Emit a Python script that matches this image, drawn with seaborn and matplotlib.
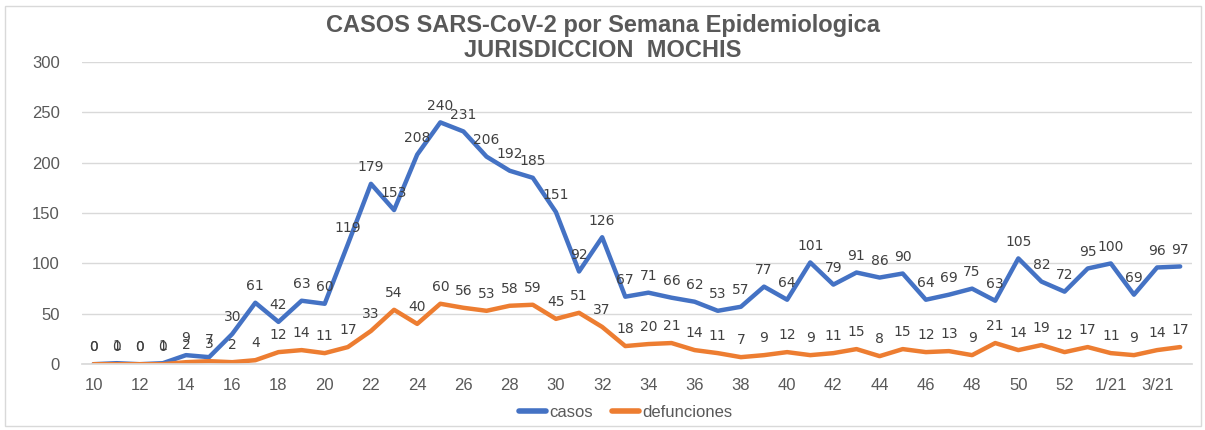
import numpy as np
import pandas as pd
import matplotlib
matplotlib.use("Agg")
import matplotlib.pyplot as plt
import seaborn as sns
from matplotlib.patches import Rectangle

# semanas epidemiologicas
semanas = [str(w) for w in range(10, 54)] + ['1/21', '2/21', '3/21', '4/21']

casos = [0, 1, 0, 1, 9, 7, 30, 61, 42, 63, 60, 119, 179, 153, 208, 240, 231, 206,
         192, 185, 151, 92, 126, 67, 71, 66, 62, 53, 57, 77, 64, 101, 79, 91, 86,
         90, 64, 69, 75, 63, 105, 82, 72, 95, 100, 69, 96, 97]

defunciones = [0, 0, 0, 0, 2, 3, 2, 4, 12, 14, 11, 17, 33, 54, 40, 60, 56, 53, 58,
               59, 45, 51, 37, 18, 20, 21, 14, 11, 7, 9, 12, 9, 11, 15, 8, 15, 12,
               13, 9, 21, 14, 19, 12, 17, 11, 9, 14, 17]

series = ['casos', 'defunciones']
colores = {'casos': '#4472C4', 'defunciones': '#ED7D31'}

pos = np.arange(len(semanas))
df = pd.DataFrame({
    'pos': np.concatenate([pos, pos]),
    'valor': casos + defunciones,
    'serie': ['casos'] * len(casos) + ['defunciones'] * len(defunciones),
})

sns.set_theme(style='white')
plt.rcParams['font.family'] = ['DejaVu Sans']
sans = ['Liberation Sans', 'DejaVu Sans']
txt = '#595959'

fig = plt.figure(figsize=(12.05, 4.3), dpi=100)
ax = fig.add_axes([0.068, 0.153, 0.921, 0.703])

sns.lineplot(data=df, x='pos', y='valor', hue='serie', hue_order=series,
             palette=colores, linewidth=3.2, ax=ax, legend=True)

# etiquetas de datos
for s, vals in [('casos', casos), ('defunciones', defunciones)]:
    for i, v in enumerate(vals):
        ax.annotate(str(v), (i, v), xytext=(0, 7), textcoords='offset points',
                    ha='center', va='bottom', fontsize=10, color='#404040')

ax.set_xlim(-0.5, len(semanas) - 0.5)
ax.set_ylim(0, 300)
ax.set_yticks(range(0, 301, 50))
ax.set_yticklabels([str(v) for v in range(0, 301, 50)], family=sans,
                   fontsize=12, color=txt)
ax.set_xticks(pos[::2])
ax.set_xticklabels(semanas[::2], family=sans, fontsize=12, color=txt)
ax.tick_params(axis='x', length=0, pad=10)
ax.tick_params(axis='y', length=0, pad=16)
ax.set_xlabel('')
ax.set_ylabel('')

ax.grid(axis='y', color='#D9D9D9', linewidth=1)
ax.set_axisbelow(True)
for side in ['top', 'right', 'left']:
    ax.spines[side].set_visible(False)
ax.spines['bottom'].set_color('#D9D9D9')

leg = ax.legend(loc='upper center', bbox_to_anchor=(0.49, -0.085), ncol=2,
                frameon=False, handlelength=1.6, handletextpad=0.2,
                columnspacing=1.2, prop={'family': sans, 'size': 12})
for line in leg.get_lines():
    line.set_linewidth(4)
for t in leg.get_texts():
    t.set_color(txt)

fig.text(0.5, 0.94, 'CASOS SARS-CoV-2 por Semana Epidemiologica',
         ha='center', va='center', fontsize=17, fontweight='bold', color=txt,
         family=sans)
fig.text(0.5, 0.883, 'JURISDICCION  MOCHIS', ha='center', va='center',
         fontsize=17, fontweight='bold', color=txt, family=sans)

fig.patches.append(Rectangle((0.004, 0.01), 0.993, 0.975, transform=fig.transFigure,
                             fill=False, edgecolor='#D9D9D9', linewidth=1))

fig.savefig('out.png', dpi=100, facecolor='white')
